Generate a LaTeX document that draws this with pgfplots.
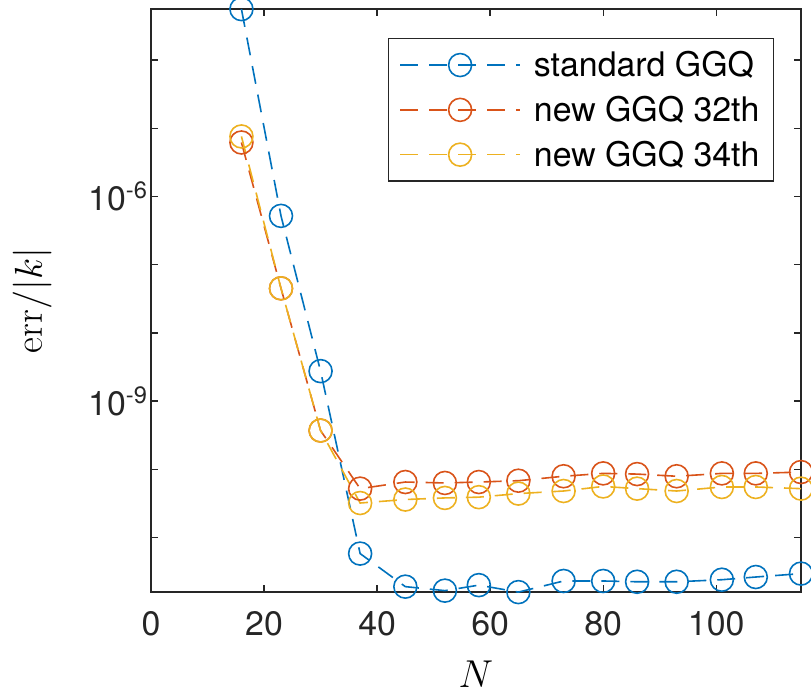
\RequirePackage{fix-cm}
\documentclass[border=0pt]{standalone}
\usepackage[no-math]{fontspec}
\setmainfont{TeX Gyre Heros}
\usepackage{pgfplots}
\pgfplotsset{compat=1.18}
\definecolor{mblue}{rgb}{0,0.447,0.741}
\definecolor{mred}{rgb}{0.85,0.325,0.098}
\definecolor{myellow}{rgb}{0.929,0.694,0.125}
\newcommand{\tf}{\fontsize{34}{40}\selectfont}
\begin{document}
\begin{tikzpicture}
\begin{axis}[
 scale only axis, width=650bp, height=583bp,
 xmin=0, xmax=115, ymode=log, ymin=1.585e-12, ymax=5.62e-4,
 xtick={0,20,40,60,80,100},
 ytick={1e-9,1e-6},
 yticklabels={10\textsuperscript{-9},10\textsuperscript{-6}},
 minor ytick={1e-11,1e-10,1e-8,1e-7,1e-5,1e-4},
 tick align=inside, major tick length=7bp, minor tick length=7bp,
 tick style={line width=1.3bp, color=black!85},
 axis line style={line width=1.6bp, draw=black!85},
 ticklabel style={font=\tf, text=black!85},
 xticklabel style={yshift=-16bp},
 /pgf/number format/assume math mode=true,
 xlabel={$N$}, ylabel={$\mathrm{err}/|k|$},
 label style={font=\fontsize{39}{45}\selectfont},
 xlabel style={at={(axis description cs:0.5,-0.163)}, anchor=base, inner sep=1bp},
 ylabel style={at={(axis description cs:-0.183,0.5)}, anchor=center},
 clip=false,
 legend cell align=left,
 legend image code/.code={\draw[mark repeat=2,mark phase=2] plot coordinates {(0bp,0bp) (60bp,0bp) (120bp,0bp)};},
 legend style={at={(rel axis cs:1,1)}, anchor=north east, xshift=-27bp, yshift=-29bp,
   font=\tf, draw=black!85, line width=1.3bp, inner xsep=11bp, inner ysep=10bp,
   row sep=12bp, column sep=10bp, nodes={inner sep=3bp, text depth=0.15em}},
 every axis plot/.append style={line width=1.6bp, dash pattern=on 18bp off 11bp, mark=o, mark size=11.5bp, mark options={solid}},
]
\addplot[color=mblue] coordinates {
(16,5.6e-4) (23,5.2e-7) (30,2.75e-9) (37,5.8e-12) (45,1.9e-12) (52,1.66e-12) (58,2.0e-12) (65,1.58e-12)
(73,2.3e-12) (80,2.3e-12) (86,2.24e-12) (93,2.24e-12) (101,2.4e-12) (107,2.63e-12) (115,2.95e-12)};
\addlegendentry{standard GGQ}
\addplot[color=mred] coordinates {
(16,6.2e-6) (23,4.5e-8) (30,3.7e-10) (37,5.2e-11) (45,6.5e-11) (52,6.3e-11) (58,6.5e-11) (65,6.8e-11)
(73,7.9e-11) (80,8.7e-11) (86,8.5e-11) (93,7.9e-11) (101,8.7e-11) (107,8.7e-11) (115,9.1e-11)};
\addlegendentry{new GGQ 32th}
\addplot[color=myellow] coordinates {
(16,7.6e-6) (23,4.5e-8) (30,3.7e-10) (37,3.2e-11) (45,3.6e-11) (52,3.8e-11) (58,3.9e-11) (65,4.4e-11)
(73,4.8e-11) (80,5.6e-11) (86,5.2e-11) (93,4.8e-11) (101,5.5e-11) (107,5.5e-11) (115,5.2e-11)};
\addlegendentry{new GGQ 34th}
\end{axis}
\pgfresetboundingbox
\useasboundingbox ([shift={(-151bp,-101bp)}]current axis.south west) rectangle ([shift={(10bp,9bp)}]current axis.north east);
\end{tikzpicture}
\end{document}
